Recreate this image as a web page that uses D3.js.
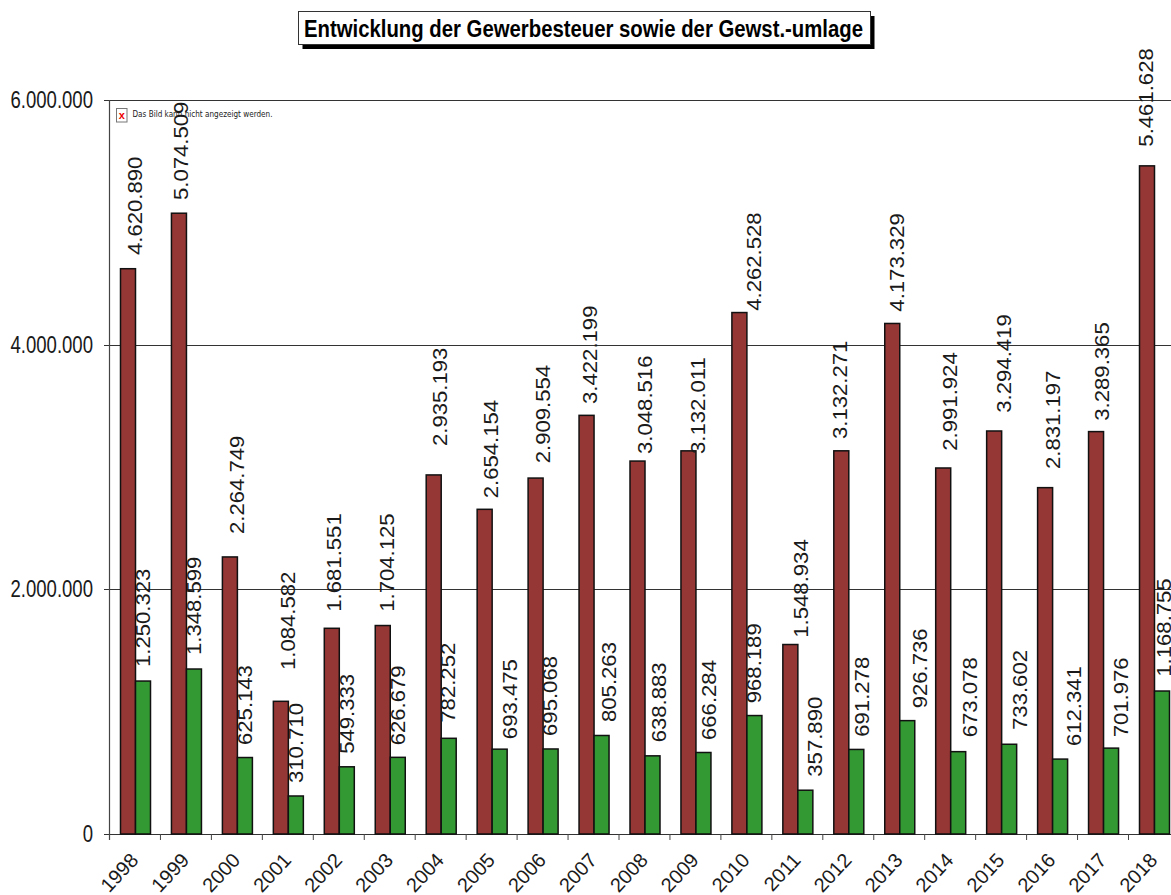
<!DOCTYPE html>
<html><head><meta charset="utf-8"><script src="https://cdn.jsdelivr.net/npm/d3@7"></script>
<style>html,body{margin:0;background:#fff}svg{display:block}text{font-family:"Liberation Sans",Arial,sans-serif;fill:#1a1a1a}</style></head>
<body><svg id="c" width="1171" height="895"></svg>
<script>
const years=[1998,1999,2000,2001,2002,2003,2004,2005,2006,2007,2008,2009,2010,2011,2012,2013,2014,2015,2016,2017,2018];
const gewerbesteuer=[4620890,5074509,2264749,1084582,1681551,1704125,2935193,2654154,2909554,3422199,3048516,3132011,4262528,1548934,3132271,4173329,2991924,3294419,2831197,3289365,5461628];
const umlage=[1250323,1348599,625143,310710,549333,626679,782252,693475,695068,805263,638883,666284,968189,357890,691278,926736,673078,733602,612341,701976,1168755];
const yTicks=[0,2000000,4000000,6000000];
const titleText="Entwicklung der Gewerbesteuer sowie der Gewst.-umlage";
const brokenImageText="Das Bild kann nicht angezeigt werden.";

// The reference's value labels were placed by hand, so each one has its own placement.
const gewerbeLabelX=[32.2,27.9,32.6,32.65,27.7,29.75,32.1,32.2,32.9,28.6,33.3,35,40,36.5,24.5,30.25,32,35,33.4,31.45,24.2];
const gewerbeLabelGap=[13.7,13.2,22.9,31.3,16.6,13.8,28.9,11,14.8,11.4,7.1,-3.1,1.8,6.8,11.8,11.8,17.3,18.3,18.6,10.9,19.2];
const umlageLabelX=[40.5,40.3,40.3,40.3,40.7,40.7,39.8,50.5,40.2,48,46.7,46,39.8,50.5,46.2,53,52,51,54,50.8,42];
const umlageLabelGap=[14,14,12.5,13,13,12,15.6,10,13,13.5,13.5,12.5,12.3,13.5,12.7,12.3,14.4,14.3,13,10.8,14.3];

const svg=d3.select("#c");
const axisX=109.5, step=50.95, barW=15, barInset=11;
const y=d3.scaleLinear().domain([0,6000000]).range([834,100]);
const x=d3.scaleBand().domain(years).range([axisX,axisX+step*years.length]);
const fmt=v=>d3.format(",")(v).replace(/,/g,".");

// gridlines and value axis
svg.append("g").selectAll("line").data(yTicks).join("line")
 .attr("x1",104).attr("x2",1171).attr("y1",d=>Math.round(y(d))+.5).attr("y2",d=>Math.round(y(d))+.5)
 .attr("stroke","#333").attr("stroke-width",1);
svg.append("line").attr("x1",axisX).attr("x2",axisX).attr("y1",100).attr("y2",840).attr("stroke","#444").attr("stroke-width",1.2);
svg.append("g").selectAll("line").data(years).join("line")
 .attr("x1",d=>x(d)).attr("x2",d=>x(d)).attr("y1",834).attr("y2",840).attr("stroke","#444");
svg.append("g").selectAll("text").data(yTicks).join("text")
 .attr("text-anchor","end")
 .attr("transform",d=>`translate(93,${y(d)+8}) scale(.79,1)`)
 .attr("font-size",23.5).text(fmt);

// placeholder for the missing picture
const ph=svg.append("g");
ph.append("rect").attr("x",116.5).attr("y",108.5).attr("width",10.5).attr("height",13.5).attr("fill","#fff").attr("stroke","#777");
ph.append("text").attr("x",121.7).attr("y",118.5).attr("text-anchor","middle").attr("font-size",11).attr("font-weight","bold").style("fill","#e00").text("x");
ph.append("text").attr("x",132.5).attr("y",116.5).attr("font-size",8.8).attr("textLength",140).attr("lengthAdjust","spacingAndGlyphs").style("font-family","DejaVu Sans").style("fill","#222").text(brokenImageText);

// bars
function bars(values,fill,dx){
 svg.append("g").selectAll("rect").data(values).join("rect")
  .attr("x",(d,i)=>x(years[i])+barInset+dx).attr("width",barW)
  .attr("y",d=>y(d)).attr("height",d=>y(0)-y(d))
  .attr("fill",fill).attr("stroke","#111").attr("stroke-width",1.5);
}
bars(gewerbesteuer,"#953735",0);
bars(umlage,"#339933",barW);

// value labels
function labels(values,offX,gap){
 svg.append("g").selectAll("text").data(values).join("text")
  .attr("transform",(d,i)=>`translate(${x(years[i])+offX[i]},${y(d)-gap[i]}) rotate(-90) scale(1.135,1)`)
  .attr("font-size",19.5).text(fmt);
}
labels(gewerbesteuer,gewerbeLabelX,gewerbeLabelGap);
labels(umlage,umlageLabelX,umlageLabelGap);

// year labels
svg.append("g").selectAll("text").data(years).join("text")
 .attr("text-anchor","end")
 .attr("transform",d=>`translate(${x(d)+30},${861}) rotate(-47)`)
 .attr("font-size",20).text(d=>d);

// title
svg.append("rect").attr("x",302.5).attr("y",16).attr("width",572).attr("height",33).attr("fill","#000");
svg.append("rect").attr("x",298.5).attr("y",11.5).attr("width",572).attr("height",33).attr("fill","#fff").attr("stroke","#333");
svg.append("text").attr("x",304).attr("y",37).attr("font-size",23).attr("font-weight","bold").attr("textLength",559).attr("lengthAdjust","spacingAndGlyphs").style("fill","#000").text(titleText);
</script></body></html>
